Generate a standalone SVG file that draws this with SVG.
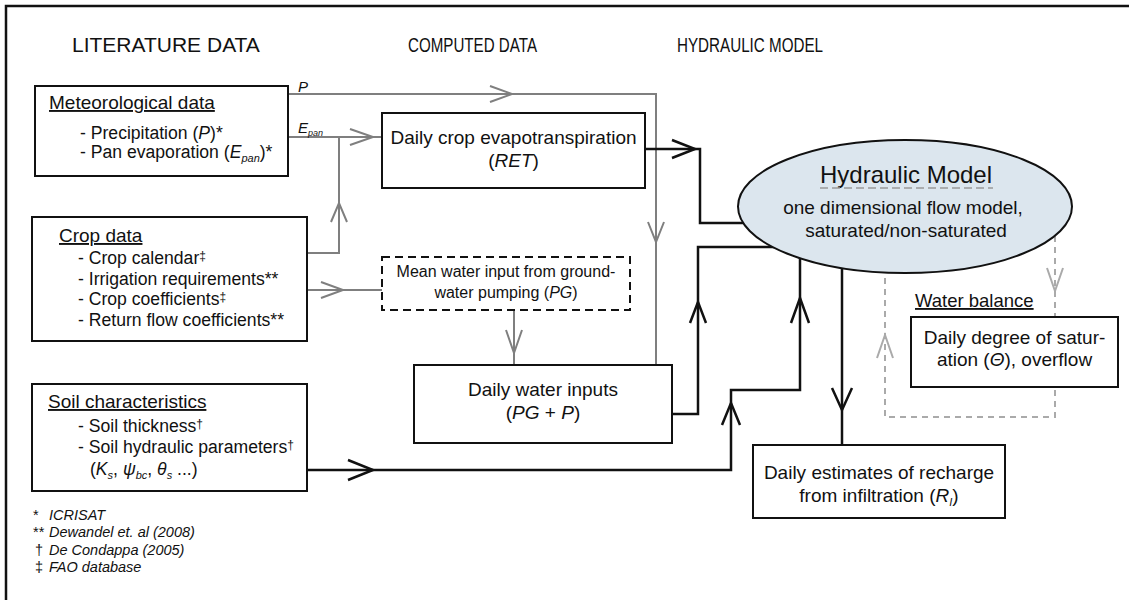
<svg xmlns="http://www.w3.org/2000/svg" width="1129" height="600" viewBox="0 0 1129 600">
<style>
text{font-family:"Liberation Sans",Arial,sans-serif;fill:#111}
.t{font-size:21px}
.h{font-size:19px;text-decoration:underline}
.i{font-size:17.6px}
.b{font-size:19px;text-anchor:middle}
.box{fill:#fff;stroke:#111;stroke-width:2}
.g{fill:none;stroke:#7f7f7f;stroke-width:2}
.k{fill:none;stroke:#111;stroke-width:2.5}
.d{fill:none;stroke:#aaa;stroke-width:2;stroke-dasharray:6 5}
.dc{fill:none;stroke:#aaa;stroke-width:2}
.fn{font-size:14.5px;font-style:italic}
.em{font-style:italic}
.sup{font-size:12px}
.sub{font-size:11px;font-style:italic}
</style>
<rect x="0" y="0" width="1129" height="600" fill="#fff"/>
<path d="M6,600V6H1129" fill="none" stroke="#111" stroke-width="2.5"/>

<g id="titles">
<text class="t" x="72" y="52">LITERATURE DATA</text>
<text class="t" x="408" y="52" textLength="129" lengthAdjust="spacingAndGlyphs">COMPUTED DATA</text>
<text class="t" x="677" y="52" textLength="146" lengthAdjust="spacingAndGlyphs">HYDRAULIC MODEL</text>
</g>

<g id="connectors">
<path class="g" d="M288,94H656V365"/>
<path class="g" d="M490,86L512,94L490,102"/>
<path class="g" d="M648,222L656,242L664,222"/>
<path class="g" d="M288,137H382"/>
<path class="g" d="M350,129L373,137L350,145"/>
<path class="g" d="M307,253H339V137"/>
<path class="g" d="M331,222L339,203L347,222"/>
<path class="g" d="M307,290H382"/>
<path class="g" d="M321,282L343,290L321,298"/>
<path class="g" d="M514,310V365"/>
<path class="g" d="M506,330L514,353L522,330"/>
<path class="k" d="M645,149H700V223H745"/>
<path class="k" d="M672,140L695,149L672,158"/>
<path class="k" d="M672,414H698V247H774"/>
<path class="k" d="M690,323L698,302L706,323"/>
<path class="k" d="M307,470H731V390H800V258"/>
<path class="k" d="M348,460L373,470L348,480"/>
<path class="k" d="M722,425L731,403L740,425"/>
<path class="k" d="M791,323L800,298L809,323"/>
<path class="k" d="M842,268V445"/>
<path class="k" d="M832,388L842,410L852,388"/>
<path class="d" d="M1055,236V417H885V272"/>
<path class="dc" d="M1047,268L1055,291L1063,268"/>
<path class="dc" d="M877,358L885,335L893,358"/>
</g>

<g id="meteorological-data">
<rect class="box" x="35" y="86" width="253" height="90"/>
<text class="h" x="49" y="109">Meteorological data</text>
<text class="i" x="80" y="139">- Precipitation (<tspan class="em">P</tspan>)*</text>
<text class="i" x="80" y="158">- Pan evaporation (<tspan class="em">E</tspan><tspan class="sub" dy="4">pan</tspan><tspan dy="-4">)*</tspan></text>
</g>

<g id="p-label"><text class="em" style="font-size:15px" x="298" y="92">P</text></g>
<g id="epan-label"><text class="em" style="font-size:15px" x="298" y="133">E<tspan style="font-size:9px" dy="3">pan</tspan></text></g>

<g id="crop-data">
<rect class="box" x="32" y="217" width="275" height="124"/>
<text class="h" x="59" y="242">Crop data</text>
<text class="i" x="78" y="264">- Crop calendar<tspan class="sup" dy="-4">‡</tspan></text>
<text class="i" x="78" y="284.5">- Irrigation requirements**</text>
<text class="i" x="78" y="305">- Crop coefficients<tspan class="sup" dy="-4">‡</tspan></text>
<text class="i" x="78" y="326">- Return flow coefficients**</text>
</g>

<g id="soil-characteristics">
<rect class="box" x="32" y="384" width="275" height="107"/>
<text class="h" x="48" y="408">Soil characteristics</text>
<text class="i" x="78" y="432">- Soil thickness<tspan class="sup" dy="-4">†</tspan></text>
<text class="i" x="78" y="453">- Soil hydraulic parameters<tspan class="sup" dy="-4">†</tspan></text>
<text class="i" x="90" y="475">(<tspan class="em">K</tspan><tspan class="sub" dy="4">s</tspan><tspan dy="-4">, </tspan><tspan class="em">ψ</tspan><tspan class="sub" dy="4">bc</tspan><tspan dy="-4">, </tspan><tspan class="em">θ</tspan><tspan class="sub" dy="4">s</tspan><tspan dy="-4"> ...)</tspan></text>
</g>

<g id="footnotes">
<text class="fn" y="520"><tspan x="33" font-style="normal">*</tspan><tspan x="49">ICRISAT</tspan></text>
<text class="fn" y="537"><tspan x="33" font-style="normal">**</tspan><tspan x="49">Dewandel et. al (2008)</tspan></text>
<text class="fn" y="555"><tspan x="35" font-style="normal">†</tspan><tspan x="49">De Condappa (2005)</tspan></text>
<text class="fn" y="572"><tspan x="35" font-style="normal">‡</tspan><tspan x="49">FAO database</tspan></text>
</g>

<g id="daily-crop-et">
<rect class="box" x="382" y="113" width="263" height="75"/>
<text class="b" x="513.5" y="144">Daily crop evapotranspiration</text>
<text class="b" x="513.5" y="167">(<tspan class="em">RET</tspan>)</text>
</g>

<g id="mean-water-input">
<rect x="382" y="257" width="248" height="53" fill="#fff" stroke="#111" stroke-width="2" stroke-dasharray="8 5"/>
<text class="b" style="font-size:16px" x="506" y="277">Mean water input from ground-</text>
<text class="b" style="font-size:16px" x="506" y="298">water pumping (<tspan class="em">PG</tspan>)</text>
</g>

<g id="daily-water-inputs">
<rect class="box" x="414" y="365" width="258" height="78"/>
<text class="b" x="543" y="396">Daily water inputs</text>
<text class="b" x="543" y="419">(<tspan class="em">PG</tspan> + <tspan class="em">P</tspan>)</text>
</g>

<g id="hydraulic-model">
<ellipse cx="905" cy="206.5" rx="167" ry="66.5" fill="#dce6ee" stroke="#111" stroke-width="2"/>
<text class="b" style="font-size:24px" x="906" y="183">Hydraulic Model</text>
<path d="M820,188H993" stroke="#999" stroke-width="1.5" stroke-dasharray="8 4" fill="none"/>
<text class="b" x="903" y="214">one dimensional flow model,</text>
<text class="b" x="906" y="237">saturated/non-saturated</text>
</g>

<g id="water-balance">
<text class="h" style="font-size:18.5px" x="915" y="307">Water balance</text>
<rect class="box" x="911" y="317" width="207" height="70"/>
<text class="b" x="1014.5" y="344">Daily degree of satur-</text>
<text class="b" x="1014.5" y="366">ation (<tspan class="em">Θ</tspan>), overflow</text>
</g>

<g id="recharge">
<rect class="box" x="753" y="445" width="252" height="73" stroke-width="2.5"/>
<text class="b" x="879" y="479">Daily estimates of recharge</text>
<text class="b" x="879" y="502">from infiltration (<tspan class="em">R</tspan><tspan class="sub" dy="4">I</tspan><tspan dy="-4">)</tspan></text>
</g>
</svg>
